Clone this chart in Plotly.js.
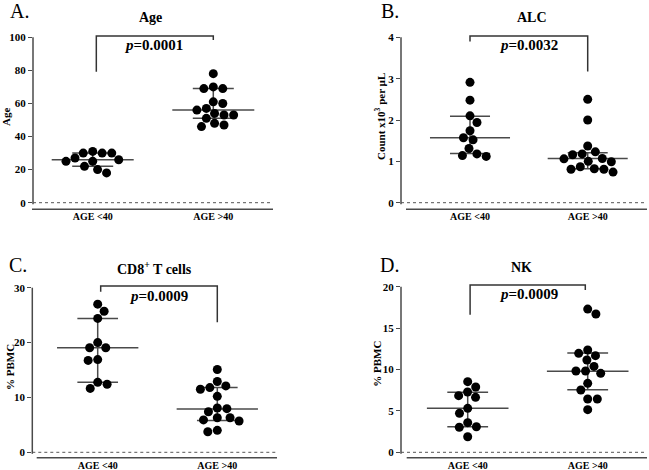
<!DOCTYPE html>
<html>
<head>
<meta charset="utf-8">
<script src="https://cdn.plot.ly/plotly-3.0.1.min.js"></script>
<style>html,body{margin:0;padding:0;background:#fff;}#chart{width:649px;height:470px;}</style>
</head>
<body>
<div id="chart"></div>
<script>
// ---------------- DATA ----------------
const categories = ['AGE <40', 'AGE >40'];

const ageYoung = [30, 27, 25, 22, 31, 25, 18, 26, 20, 30, 30];
const ageOld   = [78, 69, 69, 70, 60, 61, 56, 57, 53, 53, 54, 51, 48, 46, 47];
const ageMed = [26, 56], ageQ1 = [22, 51], ageQ3 = [30, 69];

const alcYoung = [2.91, 2.48, 2.10, 1.94, 1.74, 1.57, 1.52, 1.31, 1.18, 1.12, 1.14];
const alcOld   = [2.50, 2.00, 1.37, 1.18, 1.23, 1.16, 1.07, 1.00, 0.99, 1.06, 0.87, 0.81, 0.74, 0.81, 0.82];
const alcMed = [1.57, 1.07], alcQ1 = [1.19, 0.82], alcQ3 = [2.09, 1.21];

const cd8Young = [27.0, 25.7, 24.4, 20.0, 19.05, 19.05, 16.9, 16.75, 12.75, 12.4, 11.65];
const cd8Old   = [15.1, 12.9, 12.1, 11.5, 11.8, 10.2, 8.07, 7.95, 7.4, 6.3, 6.3, 5.9, 5.7, 3.75, 4.0];
const cd8Med = [19.05, 7.9], cd8Q1 = [12.75, 5.8], cd8Q3 = [24.4, 11.8];

const nkYoung = [8.53, 7.89, 7.28, 6.84, 6.64, 5.31, 4.71, 3.58, 3.09, 3.02, 1.88];
const nkOld   = [17.3, 16.7, 12.35, 11.95, 11.67, 11.15, 10.37, 9.82, 9.54, 9.82, 8.33, 7.52, 6.44, 6.44, 5.15];
const nkMed = [5.31, 9.78], nkQ1 = [3.09, 7.56], nkQ3 = [7.25, 12.0];

const panelLetters = ['A.', 'B.', 'C.', 'D.'];
const panelTitles = ['Age', 'ALC', 'CD8<sup>+</sup> T cells', 'NK'];
const yTitles = ['Age', 'Count x10<sup>3</sup> per µL', '% PBMC', '% PBMC'];
const pValues = ['0.0001', '0.0032', '0.0009', '0.0009'];
const yMaxes = [100, 4, 30, 20];
const yDticks = [20, 1, 10, 5];

// ---------------- LAYOUT GEOMETRY (pixels) ----------------
const W = 649, H = 470;
const FONT = 'Liberation Serif, Times New Roman, serif';
const geom = [
  {xL:33,  xR:273, c1:92.7, c2:213.3, top:28,  bottom:209.3, yTopPx:37.3,  y0Px:202.7, xLine0:32,
   letter:[19.5,11], title:[150,18], ytitle:[6,117], ptext:[153,45], br:{x0:0.03, x1:1.0, top:100.8, l:79.2, r:98.4}},
  {xL:401, xR:647, c1:470,  c2:587.7, top:28,  bottom:209.3, yTopPx:37.3,  y0Px:202.7, xLine0:406,
   letter:[390.5,11], title:[531.7,18], ytitle:[380,117], ptext:[528.3,45], br:{x0:0.0, x1:1.0, top:4.03, l:3.9, r:3.17}},
  {xL:32.3,xR:277, c1:97.7, c2:217.3, top:278, bottom:457.7, yTopPx:287.7, y0Px:452.3, xLine0:36.7,
   letter:[18.3,264.5], title:[154,268], ytitle:[10,367], ptext:[158,296], br:{x0:0.025, x1:1.0, top:30.3, l:29.25, r:23.7}},
  {xL:401, xR:647, c1:467.7,c2:587.7, top:278, bottom:457.7, yTopPx:286.7, y0Px:452.3, xLine0:406.7,
   letter:[389,265], title:[521.7,267], ytitle:[376.7,364], ptext:[528.3,294.3], br:{x0:0.02, x1:0.98, top:20.2, l:16.6, r:19.6}}
];

const groups = [
  [ageYoung, ageOld, ageMed, ageQ1, ageQ3],
  [alcYoung, alcOld, alcMed, alcQ1, alcQ3],
  [cd8Young, cd8Old, cd8Med, cd8Q1, cd8Q3],
  [nkYoung, nkOld, nkMed, nkQ1, nkQ3]
];

// beeswarm offsets (pixels) computed from the values
function swarm(values, ppu, D) {
  const idx = values.map((v, i) => i).sort((a, b) => values[b] - values[a]);
  const placed = [];
  const off = new Array(values.length).fill(0);
  for (const i of idx) {
    const y = values[i] * ppu;
    const cands = [0];
    const ints = [];
    for (const p of placed) {
      const dy = Math.abs(p.y - y);
      if (dy < D) {
        const dx = Math.sqrt(D * D - dy * dy);
        ints.push([p.x - dx, p.x + dx]);
        cands.push(p.x - dx, p.x + dx);
      }
    }
    const meanX = placed.length ? placed.reduce((s, p) => s + p.x, 0) / placed.length : 0;
    cands.sort((a, b) => (Math.abs(a) - Math.abs(b)) || (meanX > 0 ? a - b : b - a));
    let best = 0;
    for (const c of cands) {
      if (ints.every(([a, b]) => c <= a + 1e-6 || c >= b - 1e-6)) { best = c; break; }
    }
    off[i] = best;
    placed.push({x: best, y});
  }
  return off;
}

const traces = [];
const layout = {
  width: W, height: H,
  margin: {l: 0, r: 0, t: 0, b: 0},
  paper_bgcolor: '#fff', plot_bgcolor: '#fff',
  showlegend: false,
  font: {family: FONT, color: '#000'},
  shapes: [], annotations: []
};

const lineColor = '#4a4a4a';

geom.forEach((g, k) => {
  const sfx = k === 0 ? '' : String(k + 1);
  const xa = 'x' + sfx, ya = 'y' + sfx;
  const yMax = yMaxes[k];
  const ppu = (g.y0Px - g.yTopPx) / yMax;
  const unit = g.c2 - g.c1;
  const yr = [-(g.bottom - g.y0Px) / ppu, yMax + (g.yTopPx - g.top) / ppu];
  const xr = [(g.xL - g.c1) / unit, (g.xR - g.c1) / unit];
  const ticks = [];
  for (let v = 0; v <= yMax + 1e-9; v += yDticks[k]) ticks.push(+v.toFixed(6));

  layout['xaxis' + sfx] = {
    domain: [g.xL / W, g.xR / W], range: xr, anchor: ya,
    showgrid: false, zeroline: false, showline: false,
    tickvals: [0, 1], ticktext: categories,
    ticks: '', 
    tickfont: {family: FONT, size: 10, weight: 700, color: '#000'}, fixedrange: true
  };
  layout['yaxis' + sfx] = {
    domain: [1 - g.bottom / H, 1 - g.top / H], range: yr, anchor: xa,
    showgrid: false, zeroline: false, showline: false,
    tickvals: ticks, ticktext: ticks.map(String),
    ticks: 'outside', ticklen: 4, tickwidth: 1, tickcolor: lineColor,
    tickfont: {family: FONT, size: 11, weight: 700, color: '#000'}, fixedrange: true
  };

  const [young, old, med, q1, q3] = groups[k];
  const mw = 0.34, qw = 0.17;
  [0, 1].forEach(c => {
    const ln = {color: lineColor, width: 1.5};
    traces.push({type: 'scatter', mode: 'lines', xaxis: xa, yaxis: ya, hoverinfo: 'skip',
      x: [c - mw, c + mw], y: [med[c], med[c]], line: ln});
    traces.push({type: 'scatter', mode: 'lines', xaxis: xa, yaxis: ya, hoverinfo: 'skip',
      x: [c - qw, c + qw, null, c - qw, c + qw, null, c, c],
      y: [q1[c], q1[c], null, q3[c], q3[c], null, q1[c], q3[c]], line: ln});
  });
  [young, old].forEach((vals, c) => {
    const off = swarm(vals, ppu, 9.6);
    traces.push({type: 'scatter', mode: 'markers', xaxis: xa, yaxis: ya,
      x: vals.map((v, i) => c + off[i] / unit), y: vals,
      marker: {color: '#000', size: 9, line: {width: 0}}, cliponaxis: false});
  });

  // axis lines
  layout.shapes.push({type: 'line', xref: 'paper', yref: 'paper',
    x0: g.xL / W, x1: g.xL / W, y0: 1 - g.yTopPx / H, y1: 1 - (g.y0Px + 1.5) / H,
    line: {color: lineColor, width: 1.5}});
  layout.shapes.push({type: 'line', xref: 'paper', yref: 'paper',
    x0: g.xLine0 / W, x1: g.xR / W, y0: 1 - g.bottom / H, y1: 1 - g.bottom / H,
    line: {color: lineColor, width: 1.5}});
  // dotted zero line
  layout.shapes.push({type: 'line', xref: xa, yref: ya, x0: xr[0], x1: xr[1], y0: 0, y1: 0,
    line: {color: '#555', width: 1, dash: 'dot'}});
  // significance bracket
  const b = g.br;
  layout.shapes.push({type: 'path', xref: xa, yref: ya,
    path: `M${b.x0},${b.l} L${b.x0},${b.top} L${b.x1},${b.top} L${b.x1},${b.r}`,
    line: {color: '#333', width: 1.5}});

  // texts
  layout.annotations.push({xref: 'paper', yref: 'paper', x: g.letter[0] / W, y: 1 - g.letter[1] / H,
    xanchor: 'center', yanchor: 'middle', showarrow: false, text: panelLetters[k],
    font: {family: FONT, size: 20, color: '#000'}});
  layout.annotations.push({xref: 'paper', yref: 'paper', x: g.title[0] / W, y: 1 - g.title[1] / H,
    xanchor: 'center', yanchor: 'middle', showarrow: false, text: panelTitles[k],
    font: {family: FONT, size: 14, weight: 700, color: '#000'}});
  layout.annotations.push({xref: 'paper', yref: 'paper', x: g.ytitle[0] / W, y: 1 - g.ytitle[1] / H,
    xanchor: 'center', yanchor: 'middle', showarrow: false, textangle: -90, text: yTitles[k],
    font: {family: FONT, size: 11, weight: 700, color: '#000'}});
  layout.annotations.push({xref: 'paper', yref: 'paper', x: g.ptext[0] / W, y: 1 - g.ptext[1] / H,
    xanchor: 'center', yanchor: 'middle', showarrow: false, text: '<i>p</i>=' + pValues[k],
    font: {family: FONT, size: 15, weight: 700, color: '#000'}});
});

Plotly.newPlot('chart', traces, layout, {staticPlot: true, displayModeBar: false});
</script>
</body>
</html>
